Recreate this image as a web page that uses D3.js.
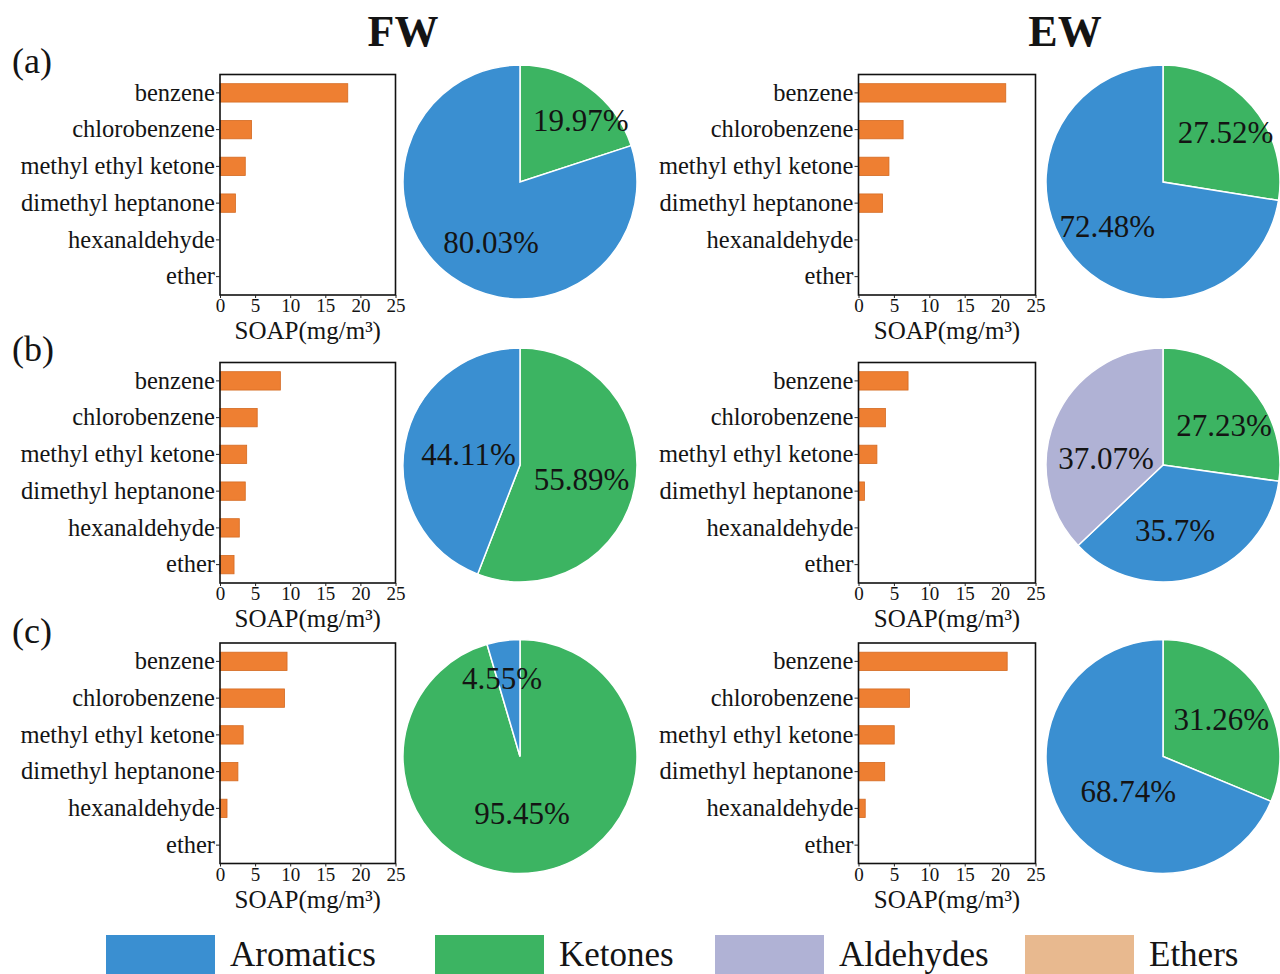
<!DOCTYPE html>
<html>
<head>
<meta charset="utf-8">
<script src="https://cdn.jsdelivr.net/npm/d3@7"></script>
<style>
  html, body { margin: 0; padding: 0; background: #fff; }
  svg { display: block; font-family: "Liberation Serif", "Times New Roman", serif; }
</style>
</head>
<body>
<svg id="chart" width="1280" height="974"></svg>
<script>
// ---- data ----
const categories = ["benzene", "chlorobenzene", "methyl ethyl ketone", "dimethyl heptanone", "hexanaldehyde", "ether"];
const xTicks = [0, 5, 10, 15, 20, 25];
const columns = ["FW", "EW"];
const rowTags = ["(a)", "(b)", "(c)"];

// SOAP per compound (mg/m³)
const soapFW_a = [18.2, 4.5, 3.6, 2.2, 0, 0];
const soapEW_a = [20.8, 6.3, 4.3, 3.4, 0, 0];
const soapFW_b = [8.6, 5.3, 3.8, 3.6, 2.75, 2.0];
const soapEW_b = [7.0, 3.8, 2.6, 0.85, 0, 0];
const soapFW_c = [9.55, 9.2, 3.3, 2.55, 1.0, 0];
const soapEW_c = [21.0, 7.2, 5.05, 3.7, 0.95, 0];

// pie slice order (clockwise from 12 o'clock)
const sliceGroups = ["Ketones", "Aromatics", "Aldehydes", "Ethers"];
const shareFW_a = [19.97, 80.03, 0, 0];
const shareEW_a = [27.52, 72.48, 0, 0];
const shareFW_b = [55.89, 44.11, 0, 0];
const shareEW_b = [27.23, 35.7, 37.07, 0];
const shareFW_c = [95.45, 4.55, 0, 0];
const shareEW_c = [31.26, 68.74, 0, 0];

const legendGroups = ["Aromatics", "Ketones", "Aldehydes", "Ethers"];

// ---- styling / layout ----
const groupColor = {
  Aromatics: "#3a8fd1",
  Ketones: "#3cb462",
  Aldehydes: "#b0b2d5",
  Ethers: "#e8b98f"
};
const barColor = "#ee7f32";
const textColor = "#141414";
const serif = "'Liberation Serif', 'Times New Roman', serif";

const colLayout = [
  { boxX: 220, boxW: 175.5, pieX: 520, titleX: 403 },
  { boxX: 858.5, boxW: 177, pieX: 1163, titleX: 1065 }
];
const rowLayout = [
  { boxY: 74.5, pieY: 182, tagY: 73 },
  { boxY: 362.5, pieY: 465, tagY: 361 },
  { boxY: 643, pieY: 756.5, tagY: 643 }
];
const boxH = 220.5;
const pieR = 117;

// percentage label placement: [angle clockwise from top (deg), distance as fraction of radius]
const labelPlacement = {
  "0-0": [[44.5, 0.74], [205.8, 0.57]],
  "0-1": [[51.7, 0.68], [231.2, 0.61]],
  "1-0": [[103, 0.54], [282, 0.45]],
  "1-1": [[57.4, 0.62], [169.7, 0.57], [277, 0.49]],
  "2-0": [[178, 0.49], [347, 0.68]],
  "2-1": [[57.5, 0.59], [225, 0.42]]
};

const soapData = [[soapFW_a, soapEW_a], [soapFW_b, soapEW_b], [soapFW_c, soapEW_c]];
const shareData = [[shareFW_a, shareEW_a], [shareFW_b, shareEW_b], [shareFW_c, shareEW_c]];

const svg = d3.select("#chart");

// column titles
svg.selectAll("text.coltitle")
  .data(columns)
  .join("text")
  .attr("class", "coltitle")
  .attr("x", (d, i) => colLayout[i].titleX)
  .attr("y", 46)
  .attr("text-anchor", "middle")
  .attr("font-family", serif)
  .attr("font-size", 44)
  .attr("font-weight", "bold")
  .attr("fill", textColor)
  .text(d => d);

// row tags
svg.selectAll("text.rowtag")
  .data(rowTags)
  .join("text")
  .attr("class", "rowtag")
  .attr("x", 12)
  .attr("y", (d, i) => rowLayout[i].tagY)
  .attr("font-family", serif)
  .attr("font-size", 36)
  .attr("fill", textColor)
  .text(d => d);

const x0 = d3.scaleLinear().domain([0, 25]);

rowLayout.forEach((row, ri) => {
  colLayout.forEach((col, ci) => {
    const values = soapData[ri][ci];
    const g = svg.append("g").attr("transform", `translate(${col.boxX},${row.boxY})`);

    const x = x0.copy().range([0, col.boxW]);
    const y = d3.scaleBand().domain(categories).range([0, boxH]).paddingInner(0.5).paddingOuter(0.25);

    // bars
    g.selectAll("rect.bar")
      .data(categories.map((c, i) => ({ c, v: values[i] })).filter(d => d.v > 0))
      .join("rect")
      .attr("class", "bar")
      .attr("x", x(0))
      .attr("y", d => y(d.c))
      .attr("width", d => x(d.v) - x(0))
      .attr("height", y.bandwidth())
      .attr("fill", barColor)
      .attr("stroke", "#d46a22")
      .attr("stroke-width", 0.8);

    // frame
    g.append("rect")
      .attr("x", 0).attr("y", 0)
      .attr("width", col.boxW).attr("height", boxH)
      .attr("fill", "none")
      .attr("stroke", "#111")
      .attr("stroke-width", 1.6);

    // y axis
    const ya = g.append("g")
      .call(d3.axisLeft(y).tickSize(4).tickPadding(1));
    ya.attr("font-family", serif);
    ya.select(".domain").remove();
    ya.selectAll("line").attr("stroke", "#222");
    ya.selectAll("text")
      .attr("font-family", serif)
      .attr("font-size", 24.5)
      .attr("fill", textColor);

    // x axis
    const xa = g.append("g")
      .attr("transform", `translate(0,${boxH})`)
      .call(d3.axisBottom(x).tickValues(xTicks).tickSize(3).tickPadding(1));
    xa.attr("font-family", serif);
    xa.select(".domain").remove();
    xa.selectAll("line").attr("stroke", "#222");
    xa.selectAll("text")
      .attr("font-family", serif)
      .attr("font-size", 19)
      .attr("fill", textColor);

    // x axis title
    g.append("text")
      .attr("x", col.boxW / 2)
      .attr("y", boxH + 44)
      .attr("text-anchor", "middle")
      .attr("font-family", serif)
      .attr("font-size", 25)
      .attr("fill", textColor)
      .text("SOAP(mg/m³)");

    // pie
    const shares = shareData[ri][ci];
    const slices = sliceGroups.map((gname, i) => ({ group: gname, value: shares[i] })).filter(d => d.value > 0);
    const pie = d3.pie().sort(null).value(d => d.value);
    const arcs = pie(slices);
    const arc = d3.arc().innerRadius(0).outerRadius(pieR);
    const pg = svg.append("g").attr("transform", `translate(${col.pieX},${row.pieY})`);
    pg.selectAll("path")
      .data(arcs)
      .join("path")
      .attr("d", arc)
      .attr("fill", d => groupColor[d.data.group])
      .attr("stroke", "#ffffff")
      .attr("stroke-width", 1.5);

    const place = labelPlacement[`${ri}-${ci}`];
    pg.selectAll("text")
      .data(arcs)
      .join("text")
      .attr("x", (d, i) => Math.sin(place[i][0] * Math.PI / 180) * place[i][1] * pieR)
      .attr("y", (d, i) => -Math.cos(place[i][0] * Math.PI / 180) * place[i][1] * pieR)
      .attr("text-anchor", "middle")
      .attr("dominant-baseline", "central")
      .attr("font-family", serif)
      .attr("font-size", 31)
      .attr("fill", textColor)
      .text(d => `${d.data.value}%`);
  });
});

// legend
const legendX = [106, 435, 715, 1025];
const lg = svg.selectAll("g.legend")
  .data(legendGroups)
  .join("g")
  .attr("class", "legend")
  .attr("transform", (d, i) => `translate(${legendX[i]},935)`);
lg.append("rect")
  .attr("width", 109)
  .attr("height", 39)
  .attr("fill", d => groupColor[d]);
lg.append("text")
  .attr("x", 124)
  .attr("y", 31)
  .attr("font-family", serif)
  .attr("font-size", 35)
  .attr("fill", textColor)
  .text(d => d);
</script>
</body>
</html>
